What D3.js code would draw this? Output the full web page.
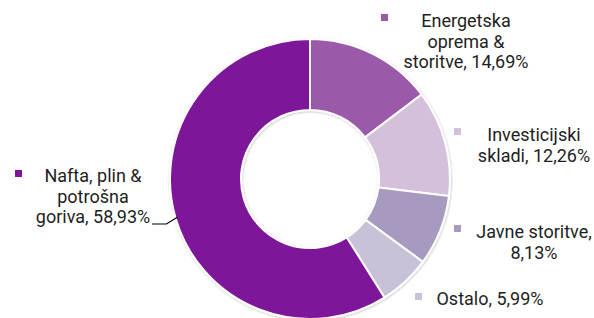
<!DOCTYPE html>
<html>
<head>
<meta charset="utf-8">
<script src="https://cdn.jsdelivr.net/npm/d3@7"></script>
<style>
  html, body { margin: 0; padding: 0; background: #fff; }
  svg { display: block; }
  .lbl { font-family: Roboto, "Noto Sans", sans-serif; font-size: 18px; fill: #1e1e1e; }
</style>
</head>
<body>
<div id="chart"></div>
<script>
const categories = ["Energetska oprema & storitve", "Investicijski skladi", "Javne storitve", "Ostalo", "Nafta, plin & potrošna goriva"];
const values = [14.69, 12.26, 8.13, 5.99, 58.93];
const valueLabels = ["14,69%", "12,26%", "8,13%", "5,99%", "58,93%"];
const labelLines = [
  ["Energetska", "oprema &", "storitve, 14,69%"],
  ["Investicijski", "skladi, 12,26%"],
  ["Javne storitve,", "8,13%"],
  ["Ostalo, 5,99%"],
  ["Nafta, plin &", "potrošna", "goriva, 58,93%"]
];
const colors = ["#9b5aa9", "#d5c0dc", "#a899be", "#c9c1d8", "#7d1499"];

const width = 594;
const height = 318;
const cx = 310, cy = 179;
const outerR = 140, innerR = 69;
// label block layout: center x of text, first baseline, marker position
const labelPos = [
  { x: 466, y: 27, mx: 381, my: 14 },
  { x: 534, y: 141, mx: 454, my: 128 },
  { x: 534, y: 238, mx: 454, my: 225 },
  { x: 490, y: 305, mx: 415, my: 293 },
  { x: 93, y: 182, mx: 15, my: 170 }
];
const lineH = 20.5;

const svg = d3.select("#chart").append("svg")
  .attr("width", width)
  .attr("height", height);

const defs = svg.append("defs");
const shadow = defs.append("filter").attr("id", "sh")
  .attr("x", "-10%").attr("y", "-10%").attr("width", "120%").attr("height", "120%");
shadow.append("feDropShadow").attr("dx", 0.5).attr("dy", 0.8).attr("stdDeviation", 1.2)
  .attr("flood-color", "#000").attr("flood-opacity", 0.25);

const pie = d3.pie().sort(null).value((d) => d);
const arcs = pie(values);
const arc = d3.arc().innerRadius(innerR).outerRadius(outerR);

const g = svg.append("g").attr("transform", `translate(${cx},${cy})`);

g.append("g").attr("filter", "url(#sh)")
  .selectAll("path")
  .data(arcs)
  .enter()
  .append("path")
  .attr("d", arc)
  .attr("fill", (d, i) => colors[i])
  .attr("stroke", "#fff")
  .attr("stroke-width", 2);

// leader line for the big slice
const big = arcs[4];
const mid = (big.startAngle + big.endAngle) / 2;
const px = cx + Math.sin(mid) * (outerR - 2);
const py = cy - Math.cos(mid) * (outerR - 2);
svg.append("path")
  .attr("d", `M${labelPos[4].x + 59},${labelPos[4].y + 2 * lineH + 1}H${px - 11}L${px},${py}`)
  .attr("fill", "none")
  .attr("stroke", "#000")
  .attr("stroke-width", 1.2);

labelLines.forEach((lines, i) => {
  const p = labelPos[i];
  svg.append("rect")
    .attr("x", p.mx)
    .attr("y", p.my)
    .attr("width", 7)
    .attr("height", 7)
    .attr("fill", colors[i]);
  const t = svg.append("text")
    .attr("class", "lbl")
    .attr("text-anchor", "middle");
  lines.forEach((s, j) => {
    t.append("tspan")
      .attr("x", p.x)
      .attr("y", p.y + j * lineH)
      .text(s);
  });
});
</script>
</body>
</html>
